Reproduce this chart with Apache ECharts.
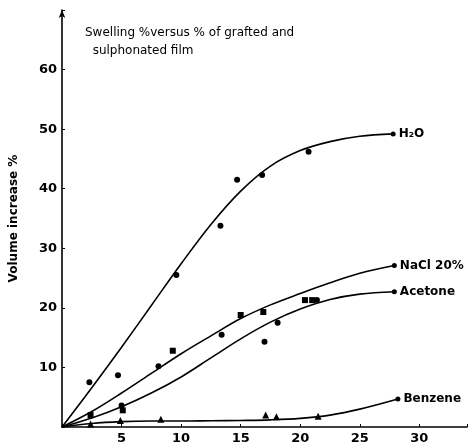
<!DOCTYPE html>
<html>
<head>
<meta charset="utf-8">
<script src="https://cdn.jsdelivr.net/npm/echarts@6/dist/echarts.min.js"></script>
<style>
html, body { margin: 0; padding: 0; background: #fff; }
#main { width: 474px; height: 445px; }
</style>
</head>
<body>
<div id="main"></div>
<script>
// measured points (x = % grafting, y = volume increase %)
var h2oPts = [[2.3, 7.5], [4.7, 8.7], [9.6, 25.5], [13.3, 33.8], [14.7, 41.5], [16.8, 42.3], [20.7, 46.2]];
var naclPts = [[2.4, 2.0], [5.1, 2.8], [9.3, 12.8], [15.0, 18.8], [16.9, 19.3], [20.4, 21.3], [21.0, 21.3]];
var acetonePts = [[5.0, 3.6], [8.1, 10.2], [13.4, 15.5], [17.0, 14.3], [18.1, 17.5], [21.4, 21.3]];
var benzenePts = [[2.4, 0.5], [4.9, 1.1], [8.3, 1.3], [17.1, 2.0], [18.0, 1.7], [21.5, 1.8]];

// fitted curves
var h2oCurve = [[0, 0], [2.5, 6.6], [5, 13.4], [7.5, 20.4], [10, 27.4], [12.5, 34], [15, 39.6], [17.5, 43.8], [20, 46.4], [22.5, 47.9], [25, 48.8], [27.8, 49.2]];
var naclCurve = [[0, 0], [2.5, 2.6], [5, 5.7], [7.5, 9], [10, 12.3], [12.5, 15.3], [15, 18.2], [17.5, 20.5], [20, 22.4], [22.5, 24.2], [25, 25.8], [27.9, 27.1]];
var acetoneCurve = [[0, 0], [2.5, 1.5], [5, 3.4], [7.5, 5.7], [10, 8.4], [12.5, 11.6], [15, 14.8], [17.5, 17.6], [20, 19.8], [22.5, 21.4], [25, 22.3], [27.9, 22.7]];
var benzeneCurve = [[0, 0], [2.5, 0.6], [5, 0.9], [7.5, 1.0], [10, 1.0], [12.5, 1.05], [15, 1.1], [17.5, 1.2], [20, 1.45], [22.5, 2.0], [25, 3.0], [28.2, 4.7]];

var endNames = ['H₂O', 'NaCl 20%', 'Acetone', 'Benzene'];
var curves = [h2oCurve, naclCurve, acetoneCurve, benzeneCurve];

var myChart = echarts.init(document.getElementById('main'));

var series = [];
// 曲线
curves.forEach(function (c, i) {
    series.push({
        type: 'line',
        data: c,
        smooth: 0.35,
        showSymbol: false,
        silent: true,
        lineStyle: { color: '#000', width: 1.6 },
        z: 2
    });
    // end point + label
    series.push({
        type: 'scatter',
        data: [c[c.length - 1]],
        symbol: 'circle',
        symbolSize: 5,
        itemStyle: { color: '#000', opacity: 1 },
        label: {
            show: true,
            position: 'right',
            distance: 3,
            formatter: endNames[i],
            color: '#000',
            fontWeight: 'bold',
            fontSize: 12,
            fontFamily: 'DejaVu Sans'
        },
        z: 3
    });
});
// 实测点
series.push({ type: 'scatter', data: h2oPts, symbol: 'circle', symbolSize: 6, itemStyle: { color: '#000', opacity: 1 } });
series.push({ type: 'scatter', data: naclPts, symbol: 'rect', symbolSize: 6, itemStyle: { color: '#000', opacity: 1 } });
series.push({ type: 'scatter', data: acetonePts, symbol: 'circle', symbolSize: 6, itemStyle: { color: '#000', opacity: 1 } });
series.push({ type: 'scatter', data: benzenePts, symbol: 'triangle', symbolSize: 7, itemStyle: { color: '#000', opacity: 1 } });

var option = {
    backgroundColor: '#fff',
    animation: false,
    title: {
        text: 'Swelling %versus % of grafted and\n  sulphonated film',
        left: 80,
        top: 19,
        textStyle: { color: '#000', fontSize: 12, fontWeight: 'normal', fontFamily: 'DejaVu Sans', lineHeight: 18 }
    },
    grid: { left: 62, right: 7, top: 10, bottom: 15 },
    xAxis: {
        type: 'value',
        min: 0,
        max: 34,
        interval: 5,
        splitLine: { show: false },
        axisLine: { lineStyle: { color: '#000', width: 1.6 } },
        axisTick: { inside: true, length: 3, lineStyle: { color: '#000' } },
        axisLabel: {
            color: '#000',
            fontWeight: 'bold',
            fontSize: 13,
            margin: 5,
            fontFamily: 'DejaVu Sans',
            formatter: function (v) { return (v > 0 && v % 5 === 0) ? v : ''; }
        }
    },
    yAxis: {
        type: 'value',
        min: 0,
        max: 70,
        interval: 10,
        name: 'Volume increase %',
        nameLocation: 'middle',
        nameGap: 42,
        nameRotate: 90,
        nameTextStyle: { color: '#000', fontWeight: 'bold', fontSize: 12, fontFamily: 'DejaVu Sans' },
        splitLine: { show: false },
        axisLine: { symbol: ['none', 'arrow'], symbolSize: [5, 8], lineStyle: { color: '#000', width: 1.6 } },
        axisTick: { inside: true, length: 3, lineStyle: { color: '#000' } },
        axisLabel: {
            color: '#000',
            fontWeight: 'bold',
            fontSize: 13,
            margin: 5,
            fontFamily: 'DejaVu Sans',
            formatter: function (v) { return (v > 0 && v < 70) ? v : ''; }
        }
    },
    series: series
};

myChart.setOption(option);
</script>
</body>
</html>
